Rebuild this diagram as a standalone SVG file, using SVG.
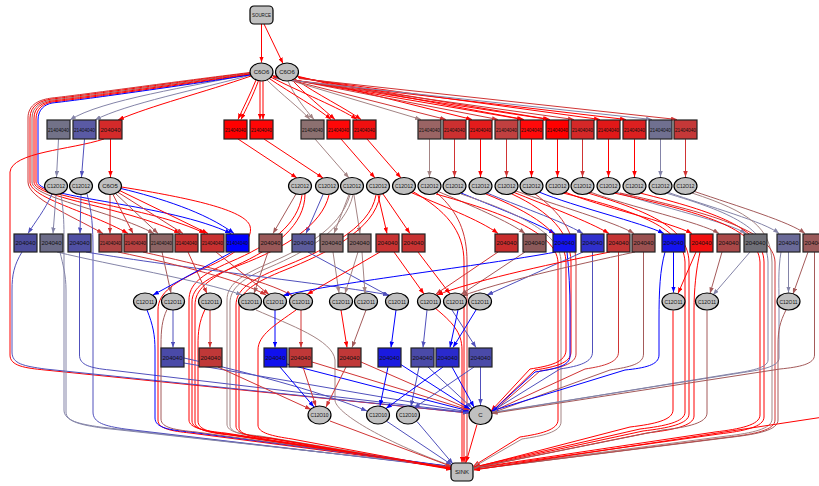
<svg xmlns="http://www.w3.org/2000/svg" width="819" height="486" viewBox="0 0 819 486">
<style>
.e path{fill:none;stroke-width:1}
.r{stroke:#ff0000;marker-end:url(#ar)}
.dr{stroke:#d03434;marker-end:url(#adr)}
.bn{stroke:#a45a5a;marker-end:url(#abn)}
.gb{stroke:#a48484;marker-end:url(#agb)}
.gy{stroke:#8484a8;marker-end:url(#agy)}
.bp{stroke:#5050bc;marker-end:url(#abp)}
.b{stroke:#0000ff;marker-end:url(#ab)}
.el{fill:#c0c0c0;stroke:#000;stroke-width:1.2}
.bx{stroke:#222;stroke-width:1.2}
.rd{fill:#c0c0c0;stroke:#000;stroke-width:1.2}
text{font-family:"Liberation Sans",Arial,sans-serif;font-size:6px;fill:#111;text-anchor:middle;dominant-baseline:central}
</style>
<defs>
<marker id="ar" viewBox="0 0 8 6" refX="8" refY="3" markerWidth="6" markerHeight="4.5" orient="auto"><path d="M0,0L8,3L0,6z" fill="#ff0000"/></marker>
<marker id="adr" viewBox="0 0 8 6" refX="8" refY="3" markerWidth="6" markerHeight="4.5" orient="auto"><path d="M0,0L8,3L0,6z" fill="#d03434"/></marker>
<marker id="abn" viewBox="0 0 8 6" refX="8" refY="3" markerWidth="6" markerHeight="4.5" orient="auto"><path d="M0,0L8,3L0,6z" fill="#a45a5a"/></marker>
<marker id="agb" viewBox="0 0 8 6" refX="8" refY="3" markerWidth="6" markerHeight="4.5" orient="auto"><path d="M0,0L8,3L0,6z" fill="#a48484"/></marker>
<marker id="agy" viewBox="0 0 8 6" refX="8" refY="3" markerWidth="6" markerHeight="4.5" orient="auto"><path d="M0,0L8,3L0,6z" fill="#8484a8"/></marker>
<marker id="abp" viewBox="0 0 8 6" refX="8" refY="3" markerWidth="6" markerHeight="4.5" orient="auto"><path d="M0,0L8,3L0,6z" fill="#5050bc"/></marker>
<marker id="ab" viewBox="0 0 8 6" refX="8" refY="3" markerWidth="6" markerHeight="4.5" orient="auto"><path d="M0,0L8,3L0,6z" fill="#0000ff"/></marker>
</defs>
<rect width="819" height="486" fill="#fff"/>
<g id="connectors" class="e">
<path class="r" d="M261.5,24 L261.5,62.5"/>
<path class="r" d="M264,24 L283,63.5"/>
<path class="r" d="M256,80 C250,95 243,108 238,119.5"/>
<path class="r" d="M258.5,80.5 C253,96 246,109 241,119.5"/>
<path class="r" d="M260,81 L260,119.5"/>
<path class="r" d="M263,81 L263,119.5"/>
<path class="gb" d="M266,79 C282,95 300,108 310,119.5"/>
<path class="gb" d="M288,81 C294,95 304,108 314,119.5"/>
<path class="r" d="M268.5,78 C292,94 318,108 331,119.5"/>
<path class="r" d="M292,80 C306,95 322,108 335,119.5"/>
<path class="r" d="M270.5,77 C300,92 340,108 357,119.5"/>
<path class="r" d="M295,79 C318,95 345,108 361,119.5"/>
<path class="r" d="M251,76 C205,92 150,106 118,120"/>
<path class="gy" d="M251,75 C200,89 125,104 95,120"/>
<path class="gy" d="M250,74 C195,86 100,100 70,120"/>
<path class="dr" d="M250,72.5 C180,81 80,95 52,98 C40,99.5 28,104 28,118 L28,182 C28,198 70,215 103,233.5"/>
<path class="r" d="M250,73 C180,82 80,96 52,99 C41,100.5 30,105 30,118 L30,182 C30,198 90,212 128,233.5"/>
<path class="bn" d="M250,73.5 C180,83 80,97 52,100 C42,101.5 32,106 32,118 L32,182 C32,198 110,210 154,233.5"/>
<path class="r" d="M250,74 C180,84 80,98 52,101 C43,102.5 34,107 34,118 L34,182 C34,198 130,208 180,233.5"/>
<path class="r" d="M250,74.5 C180,85 80,99 52,102 C44,103.5 36,108 36,119 L36,182 C36,198 150,206 205,233.5"/>
<path class="b" d="M250,75 C180,86 80,100 52,103 C45,104.5 38,109 38,120 L38,182 C38,198 170,204 231,233.5"/>
<path class="r" d="M104,139 C70,150 12,152 10,172 L10,355 C10,366 25,368 45,370 L469,413"/>
<path class="gy" d="M58.5,139 L56.5,177"/>
<path class="bp" d="M84.5,139 L81.5,177"/>
<path class="r" d="M110.5,139 L110.5,177"/>
<path class="r" d="M238,139 L297,178"/>
<path class="r" d="M264,139 L323,178"/>
<path class="gb" d="M315,139 L349,178"/>
<path class="r" d="M341,139 L375,178"/>
<path class="r" d="M367,139 L401,178"/>
<path class="gb" d="M272,75 L421,119.5"/>
<path class="dr" d="M272,75.5 L446,119.5"/>
<path class="r" d="M297,76 L472,119.5"/>
<path class="dr" d="M273,76 L498,119.5"/>
<path class="r" d="M273,76.5 L523,119.5"/>
<path class="r" d="M298,77 L524,119.5"/>
<path class="r" d="M273,77 L549,119.5"/>
<path class="r" d="M298,77.5 L550,119.5"/>
<path class="dr" d="M274,77.5 L574,119.5"/>
<path class="r" d="M299,78 L600,119.5"/>
<path class="r" d="M274,78 L626,119.5"/>
<path class="gy" d="M274,78.5 L652,119.5"/>
<path class="dr" d="M299,78.5 L677,119.5"/>
<path class="gb" d="M429.5,139 L429.5,177"/>
<path class="dr" d="M454.5,139 L454.5,177"/>
<path class="r" d="M480.5,139 L480.5,177"/>
<path class="dr" d="M506.5,139 L506.5,177"/>
<path class="r" d="M531.5,139 L531.5,177"/>
<path class="r" d="M557.5,139 L557.5,177"/>
<path class="dr" d="M582.5,139 L582.5,177"/>
<path class="r" d="M608.5,139 L608.5,177"/>
<path class="r" d="M634.5,139 L634.5,177"/>
<path class="gy" d="M660.5,139 L660.5,177"/>
<path class="dr" d="M685.5,139 L685.5,177"/>
<path class="bp" d="M52,194 C45,210 35,222 28,233.5"/>
<path class="gy" d="M56,195 L53,233.5"/>
<path class="gy" d="M61,194 C64,215 64,225 64,240 L64,410 C64,421 80,424 100,427 L451.5,467"/>
<path class="bp" d="M81,195 L80,233.5"/>
<path class="bp" d="M87,194 C92,212 93,228 93,250 L93,412 C93,423 105,426 125,429 L451.5,467.5"/>
<path class="dr" d="M110,195 L110,233.5"/>
<path class="dr" d="M113,194.5 L133,233.5"/>
<path class="bn" d="M115.5,193.5 L158,233.5"/>
<path class="dr" d="M117.5,192 L183,233.5"/>
<path class="r" d="M119.5,190.5 L208,233.5"/>
<path class="b" d="M121,188.5 C160,198 205,212 234,233.5"/>
<path class="r" d="M121.5,187 C190,198 245,210 250,226 C254,240 235,255 205,268 C175,282 158,292 158,310 L158,420 C158,429 172,431 190,433 L451.5,467"/>
<path class="bn" d="M296,194 L273,233.5"/>
<path class="bp" d="M323,194.5 L306,233.5"/>
<path class="gb" d="M349,194.5 L334,233.5"/>
<path class="gb" d="M354,195 L360,233.5"/>
<path class="r" d="M378,195 L387,233.5"/>
<path class="r" d="M383,194 L410,233.5"/>
<path class="r" d="M410,192 C440,205 480,220 498,233.5"/>
<path class="r" d="M302,195 C298,225 270,245 230,262 C200,275 189,285 189,300 L189,420 C189,428 205,431 225,433 L451.5,467.5"/>
<path class="r" d="M329,195 C322,225 285,248 240,265 C205,278 192,288 192,302 L192,421 C192,429 208,432 228,434 L451.5,468"/>
<path class="r" d="M305,194 C305,225 275,248 235,266 C207,280 195,290 195,305 L195,422 C195,430 210,433 230,435 L452,468.5"/>
<path class="gb" d="M350,195 C340,230 300,250 265,265 C240,276 227,285 227,300 L227,424 C227,432 240,434 260,436 L452,468"/>
<path class="gb" d="M353,195 C345,230 305,252 270,267 C243,278 230,288 230,303 L230,425 C230,433 243,435 263,437 L452,468.5"/>
<path class="r" d="M376,195 C370,230 320,252 280,268 C250,280 236,290 236,305 L236,426 C236,434 250,436 270,438 L452,469"/>
<path class="r" d="M380,195 C375,230 325,254 285,270 C255,282 239,292 239,307 L239,427 C239,435 253,437 273,439 L452,469.5"/>
<path class="bn" d="M437,191 C470,205 510,222 525,233.5"/>
<path class="b" d="M461,193 C490,205 530,220 555,233.5"/>
<path class="bp" d="M487,193 C515,205 560,220 583,233.5"/>
<path class="r" d="M513,192 C545,205 590,222 609,233.5"/>
<path class="bn" d="M516,191 C555,205 615,222 634,233.5"/>
<path class="b" d="M539,192 C575,207 640,222 664,233.5"/>
<path class="r" d="M565,192 C600,207 670,222 692,233.5"/>
<path class="bn" d="M590,192 C630,207 700,222 719,233.5"/>
<path class="gy" d="M616,192 C660,207 728,222 746,233.5"/>
<path class="gy" d="M667,192 C710,207 765,222 779,233.5"/>
<path class="bn" d="M693,191 C740,207 790,222 805,233.5"/>
<path class="r" d="M412,191 C445,210 464,230 464,262 L464,462.5"/>
<path class="dr" d="M437,193 C458,212 467,232 467,262 L467,455 C467,459 466,461 465.5,462.5"/>
<path class="r" d="M436,194 C500,212 556,232 558,262 L558,420 C558,430 540,434 520,437 L473.5,466"/>
<path class="gb" d="M461,194 C515,212 561,232 561,262 L561,422 C561,432 542,436 522,439 L473.5,467"/>
<path class="r" d="M486,194 C530,212 565,232 566,262 L566,350 C566,362 550,366 530,369 L491,411"/>
<path class="r" d="M512,194 C550,212 570,232 571,262 L571,352 C571,363 555,367 535,370 L491.5,412"/>
<path class="dr" d="M535,194 C560,212 575,232 576,262 L576,354 C576,364 560,368 540,371 L491.5,413"/>
<path class="r" d="M563,193 C640,212 683,228 685,262 L685,412 C685,422 665,426 640,429 L474,467"/>
<path class="r" d="M588,193 C650,212 688,228 689,262 L689,414 C689,424 668,428 643,431 L474,467.5"/>
<path class="r" d="M614,193 C700,212 758,228 760,262 L760,415 C760,425 740,429 715,432 L474,468"/>
<path class="r" d="M640,193 C715,212 763,228 764,262 L764,417 C764,427 744,431 719,434 L474,468.5"/>
<path class="gy" d="M666,193 C730,212 767,228 768,262 L768,360 C768,368 750,371 730,374 L491.5,413"/>
<path class="gb" d="M692,193 C750,212 771,228 772,262 L772,419 C772,429 752,433 727,436 L474,469"/>
<path class="dr" d="M620,193 C705,212 774,230 775,262 L775,420 C775,430 755,434 730,437 L474,469.5"/>
<path class="bp" d="M22,252 C14,265 12,275 12,290 L12,352 C12,364 24,366 45,369 L469,413"/>
<path class="gy" d="M57,252 C110,265 200,280 242,295"/>
<path class="gy" d="M60,252 C63,265 66,275 66,290 L66,412 C66,422 82,425 102,428 L451.5,466.5"/>
<path class="bp" d="M79.5,252 L79.5,355 C79.5,365 90,368 110,370 L469,412.5"/>
<path class="bp" d="M86,252 C180,268 330,284 389,295"/>
<path class="dr" d="M118,252 C180,265 240,280 266,295"/>
<path class="dr" d="M143,252 C200,265 265,280 292,295.5"/>
<path class="bn" d="M162,252 L171,293"/>
<path class="dr" d="M188,252 L207,293.5"/>
<path class="dr" d="M216,252 L269,294.5"/>
<path class="b" d="M232,252 L153,295"/>
<path class="bn" d="M268,252 L254,293.5"/>
<path class="bp" d="M308,252 L389,296"/>
<path class="gb" d="M333,252 L339,293"/>
<path class="gb" d="M358,252 L345,293.5"/>
<path class="gb" d="M362,252 L365,293"/>
<path class="r" d="M380,252 L307,294.5"/>
<path class="r" d="M394,252 L424,294"/>
<path class="r" d="M418,252 L450,294"/>
<path class="dr" d="M498,252 L436,294"/>
<path class="bn" d="M525,252 L461,294.5"/>
<path class="b" d="M556,252 C480,266 340,282 283,295.5"/>
<path class="b" d="M567,252 C569,270 570,290 570,310 L570,356 C570,366 555,369 535,372 L491.5,412"/>
<path class="bp" d="M583,252 L487,295"/>
<path class="bp" d="M592.5,252 L592.5,352 C592.5,362 580,366 560,369 L491.5,411.5"/>
<path class="r" d="M610,252 C540,266 470,282 437,295"/>
<path class="dr" d="M618.5,252 L618.5,352 C618.5,362 605,366 585,369 L491.5,412"/>
<path class="bn" d="M635,252 C570,266 500,282 462,296"/>
<path class="bn" d="M643.5,252 L643.5,354 C643.5,364 630,367 610,370 L491.5,413"/>
<path class="b" d="M673.5,252 L673.5,292.5"/>
<path class="b" d="M665,252 C660,270 659,290 659,320 L659,355 C659,365 645,368 625,370 L491.5,411"/>
<path class="r" d="M696,252 L678,293.5"/>
<path class="r" d="M700,252 C696,270 694,290 694,310 L694,416 C694,426 672,430 647,433 L474,468"/>
<path class="bn" d="M722,252 L710,293.5"/>
<path class="gy" d="M750,252 L713,295"/>
<path class="gy" d="M788.5,252 L788.5,292.5"/>
<path class="gy" d="M781,252 C778,270 779,285 779,300 L779,358 C779,367 760,370 740,373 L491.5,412.5"/>
<path class="bn" d="M808,252 L793,294"/>
<path class="bn" d="M814.5,252 L814.5,355 C814.5,364 800,367 780,369 L491.5,413.5"/>
<path class="b" d="M147,310 C153,325 155,335 155,350 L155,418 C155,428 170,430 190,432 L451.5,466.5"/>
<path class="bp" d="M173,310 L173,347.5"/>
<path class="bn" d="M167,309.5 C162,320 161,330 161,345 L161,419 C161,428 176,430 196,432 L451.5,467"/>
<path class="dr" d="M210,310 L210,347.5"/>
<path class="r" d="M205,309.5 C199,322 198,332 198,345 L198,421 C198,430 212,433 232,435 L452,468"/>
<path class="gb" d="M256,310 C290,325 333,340 335,360 L335,400 C335,412 380,440 451.5,466"/>
<path class="b" d="M275,310 L275,347.5"/>
<path class="dr" d="M301,310 L301,347.5"/>
<path class="r" d="M296,310 C275,325 258,335 258,350 L258,425 C258,433 272,436 292,439 L452,469"/>
<path class="r" d="M341,310 L347,347.5"/>
<path class="bn" d="M366,310 L352,347.5"/>
<path class="b" d="M396,310 L391,347.5"/>
<path class="bp" d="M427,310 L423,347.5"/>
<path class="r" d="M435,308 C452,322 462,332 462,350 L462,462.5"/>
<path class="bp" d="M452,310 L476,347.5"/>
<path class="b" d="M458,310 L450,347.5"/>
<path class="b" d="M476,310 L453,347.5"/>
<path class="r" d="M673,310.5 L673,410 C673,420 655,424 630,427 L474,467.5"/>
<path class="bn" d="M707,310.5 L707,413 C707,423 688,427 663,430 L474,468"/>
<path class="bn" d="M786,310 C780,322 778,330 778,345 L778,420 C778,430 758,434 733,437 L474,469.5"/>
<path class="r" d="M830,416 L474,470"/>
<path class="bp" d="M184,363 L469,412"/>
<path class="bp" d="M184,358 C260,375 330,395 367,411"/>
<path class="dr" d="M218,367 L311,409.5"/>
<path class="b" d="M280,367 L314,407"/>
<path class="b" d="M287,364 L469,411"/>
<path class="dr" d="M303,367 L316,406.5"/>
<path class="dr" d="M312,362 L469,410"/>
<path class="dr" d="M346,367 L326,407"/>
<path class="dr" d="M361,362 L470,409.5"/>
<path class="b" d="M388,367 L380,406"/>
<path class="b" d="M400,364 L470,409"/>
<path class="bp" d="M419,367 L411,406.5"/>
<path class="bp" d="M428,367 L472,408"/>
<path class="b" d="M443,367 L386,408.5"/>
<path class="b" d="M452,367 L474,407"/>
<path class="bp" d="M480.5,367 L480.5,405"/>
<path class="bp" d="M474,367 L414,408"/>
<path class="dr" d="M330,421 L451.5,466.5"/>
<path class="bp" d="M387,421.5 L452,465"/>
<path class="bp" d="M417,421.5 L453,464"/>
<path class="r" d="M477,424.5 L466,462.5"/>
</g>
<g id="n_source"><rect class="rd" x="250" y="6" width="23" height="18" rx="4"/><text x="261.5" y="15" font-size="5.5" textLength="19" lengthAdjust="spacingAndGlyphs">SOURCE</text></g>
<g id="n_c6o6_a"><ellipse class="el" cx="261.5" cy="72" rx="11.5" ry="9"/><text x="261.5" y="72">C6O6</text></g>
<g id="n_c6o6_b"><ellipse class="el" cx="287" cy="72" rx="11.5" ry="9"/><text x="287" y="72">C6O6</text></g>
<g id="b2_1"><rect class="bx" x="47" y="120" width="23" height="19" fill="#727288"/><text x="58.5" y="129.5" textLength="21" lengthAdjust="spacingAndGlyphs">21404040</text></g>
<g id="b2_2"><rect class="bx" x="73" y="120" width="23" height="19" fill="#5a5aa4"/><text x="84.5" y="129.5" textLength="21" lengthAdjust="spacingAndGlyphs">21404040</text></g>
<g id="b2_3"><rect class="bx" x="99" y="120" width="23" height="19" fill="#d42a2a"/><text x="110.5" y="129.5">204040</text></g>
<g id="b2_4"><rect class="bx" x="224" y="120" width="23" height="19" fill="#ff0000"/><text x="235.5" y="129.5" textLength="21" lengthAdjust="spacingAndGlyphs">21404040</text></g>
<g id="b2_5"><rect class="bx" x="250" y="120" width="23" height="19" fill="#ff0606"/><text x="261.5" y="129.5" textLength="21" lengthAdjust="spacingAndGlyphs">21404040</text></g>
<g id="b2_6"><rect class="bx" x="301" y="120" width="23" height="19" fill="#8c7070"/><text x="312.5" y="129.5" textLength="21" lengthAdjust="spacingAndGlyphs">21404040</text></g>
<g id="b2_7"><rect class="bx" x="327" y="120" width="23" height="19" fill="#ff0808"/><text x="338.5" y="129.5" textLength="21" lengthAdjust="spacingAndGlyphs">21404040</text></g>
<g id="b2_8"><rect class="bx" x="353" y="120" width="23" height="19" fill="#f01010"/><text x="364.5" y="129.5" textLength="21" lengthAdjust="spacingAndGlyphs">21404040</text></g>
<g id="b2_9"><rect class="bx" x="418" y="120" width="23" height="19" fill="#9a6464"/><text x="429.5" y="129.5" textLength="21" lengthAdjust="spacingAndGlyphs">21404040</text></g>
<g id="b2_10"><rect class="bx" x="443" y="120" width="23" height="19" fill="#cc3030"/><text x="454.5" y="129.5" textLength="21" lengthAdjust="spacingAndGlyphs">21404040</text></g>
<g id="b2_11"><rect class="bx" x="469" y="120" width="23" height="19" fill="#e41c1c"/><text x="480.5" y="129.5" textLength="21" lengthAdjust="spacingAndGlyphs">21404040</text></g>
<g id="b2_12"><rect class="bx" x="495" y="120" width="23" height="19" fill="#c04040"/><text x="506.5" y="129.5" textLength="21" lengthAdjust="spacingAndGlyphs">21404040</text></g>
<g id="b2_13"><rect class="bx" x="520" y="120" width="23" height="19" fill="#ff0a0a"/><text x="531.5" y="129.5" textLength="21" lengthAdjust="spacingAndGlyphs">21404040</text></g>
<g id="b2_14"><rect class="bx" x="546" y="120" width="23" height="19" fill="#ff0000"/><text x="557.5" y="129.5" textLength="21" lengthAdjust="spacingAndGlyphs">21404040</text></g>
<g id="b2_15"><rect class="bx" x="571" y="120" width="23" height="19" fill="#d42828"/><text x="582.5" y="129.5" textLength="21" lengthAdjust="spacingAndGlyphs">21404040</text></g>
<g id="b2_16"><rect class="bx" x="597" y="120" width="23" height="19" fill="#e01818"/><text x="608.5" y="129.5" textLength="21" lengthAdjust="spacingAndGlyphs">21404040</text></g>
<g id="b2_17"><rect class="bx" x="623" y="120" width="23" height="19" fill="#dc2020"/><text x="634.5" y="129.5" textLength="21" lengthAdjust="spacingAndGlyphs">21404040</text></g>
<g id="b2_18"><rect class="bx" x="649" y="120" width="23" height="19" fill="#707090"/><text x="660.5" y="129.5" textLength="21" lengthAdjust="spacingAndGlyphs">21404040</text></g>
<g id="b2_19"><rect class="bx" x="674" y="120" width="23" height="19" fill="#c43838"/><text x="685.5" y="129.5" textLength="21" lengthAdjust="spacingAndGlyphs">21404040</text></g>
<g id="e3_1"><ellipse class="el" cx="56" cy="186" rx="11.5" ry="8.5"/><text x="56" y="186" textLength="18" lengthAdjust="spacingAndGlyphs">C12O12</text></g>
<g id="e3_2"><ellipse class="el" cx="81" cy="186" rx="11.5" ry="8.5"/><text x="81" y="186" textLength="18" lengthAdjust="spacingAndGlyphs">C12O12</text></g>
<g id="e3_c6o5"><ellipse class="el" cx="110" cy="186" rx="11.5" ry="8.5"/><text x="110" y="186">C6O5</text></g>
<g id="e3_3"><ellipse class="el" cx="300" cy="186" rx="11.5" ry="8.5"/><text x="300" y="186" textLength="18" lengthAdjust="spacingAndGlyphs">C12O12</text></g>
<g id="e3_4"><ellipse class="el" cx="327" cy="186" rx="11.5" ry="8.5"/><text x="327" y="186" textLength="18" lengthAdjust="spacingAndGlyphs">C12O12</text></g>
<g id="e3_5"><ellipse class="el" cx="352" cy="186" rx="11.5" ry="8.5"/><text x="352" y="186" textLength="18" lengthAdjust="spacingAndGlyphs">C12O12</text></g>
<g id="e3_6"><ellipse class="el" cx="378" cy="186" rx="11.5" ry="8.5"/><text x="378" y="186" textLength="18" lengthAdjust="spacingAndGlyphs">C12O12</text></g>
<g id="e3_7"><ellipse class="el" cx="404" cy="186" rx="11.5" ry="8.5"/><text x="404" y="186" textLength="18" lengthAdjust="spacingAndGlyphs">C12O12</text></g>
<g id="e3_8"><ellipse class="el" cx="429.5" cy="186" rx="11.5" ry="8.5"/><text x="429.5" y="186" textLength="18" lengthAdjust="spacingAndGlyphs">C12O12</text></g>
<g id="e3_9"><ellipse class="el" cx="454.5" cy="186" rx="11.5" ry="8.5"/><text x="454.5" y="186" textLength="18" lengthAdjust="spacingAndGlyphs">C12O12</text></g>
<g id="e3_10"><ellipse class="el" cx="480.5" cy="186" rx="11.5" ry="8.5"/><text x="480.5" y="186" textLength="18" lengthAdjust="spacingAndGlyphs">C12O12</text></g>
<g id="e3_11"><ellipse class="el" cx="506.5" cy="186" rx="11.5" ry="8.5"/><text x="506.5" y="186" textLength="18" lengthAdjust="spacingAndGlyphs">C12O12</text></g>
<g id="e3_12"><ellipse class="el" cx="531.5" cy="186" rx="11.5" ry="8.5"/><text x="531.5" y="186" textLength="18" lengthAdjust="spacingAndGlyphs">C12O12</text></g>
<g id="e3_13"><ellipse class="el" cx="557.5" cy="186" rx="11.5" ry="8.5"/><text x="557.5" y="186" textLength="18" lengthAdjust="spacingAndGlyphs">C12O12</text></g>
<g id="e3_14"><ellipse class="el" cx="582.5" cy="186" rx="11.5" ry="8.5"/><text x="582.5" y="186" textLength="18" lengthAdjust="spacingAndGlyphs">C12O12</text></g>
<g id="e3_15"><ellipse class="el" cx="608.5" cy="186" rx="11.5" ry="8.5"/><text x="608.5" y="186" textLength="18" lengthAdjust="spacingAndGlyphs">C12O12</text></g>
<g id="e3_16"><ellipse class="el" cx="634.5" cy="186" rx="11.5" ry="8.5"/><text x="634.5" y="186" textLength="18" lengthAdjust="spacingAndGlyphs">C12O12</text></g>
<g id="e3_17"><ellipse class="el" cx="660.5" cy="186" rx="11.5" ry="8.5"/><text x="660.5" y="186" textLength="18" lengthAdjust="spacingAndGlyphs">C12O12</text></g>
<g id="e3_18"><ellipse class="el" cx="685.5" cy="186" rx="11.5" ry="8.5"/><text x="685.5" y="186" textLength="18" lengthAdjust="spacingAndGlyphs">C12O12</text></g>
<g id="b4_1"><rect class="bx" x="14" y="234" width="23" height="18" fill="#4c4c9c"/><text x="25.5" y="243">204040</text></g>
<g id="b4_2"><rect class="bx" x="40" y="234" width="23" height="18" fill="#6c6c88"/><text x="51.5" y="243">204040</text></g>
<g id="b4_3"><rect class="bx" x="68" y="234" width="23" height="18" fill="#5050a4"/><text x="79.5" y="243">204040</text></g>
<g id="b4_4"><rect class="bx" x="99" y="234" width="23" height="18" fill="#b04444"/><text x="110.5" y="243" textLength="21" lengthAdjust="spacingAndGlyphs">21404040</text></g>
<g id="b4_5"><rect class="bx" x="124" y="234" width="23" height="18" fill="#b84040"/><text x="135.5" y="243" textLength="21" lengthAdjust="spacingAndGlyphs">21404040</text></g>
<g id="b4_6"><rect class="bx" x="150" y="234" width="23" height="18" fill="#8c6464"/><text x="161.5" y="243" textLength="21" lengthAdjust="spacingAndGlyphs">21404040</text></g>
<g id="b4_7"><rect class="bx" x="175" y="234" width="23" height="18" fill="#c83030"/><text x="186.5" y="243" textLength="21" lengthAdjust="spacingAndGlyphs">21404040</text></g>
<g id="b4_8"><rect class="bx" x="201" y="234" width="23" height="18" fill="#c83030"/><text x="212.5" y="243" textLength="21" lengthAdjust="spacingAndGlyphs">21404040</text></g>
<g id="b4_9"><rect class="bx" x="226" y="234" width="23" height="18" fill="#0000ff"/><text x="237.5" y="243" textLength="21" lengthAdjust="spacingAndGlyphs">21404040</text></g>
<g id="b4_10"><rect class="bx" x="259" y="234" width="23" height="18" fill="#9a5858"/><text x="270.5" y="243">204040</text></g>
<g id="b4_11"><rect class="bx" x="292" y="234" width="23" height="18" fill="#5c5c9c"/><text x="303.5" y="243">204040</text></g>
<g id="b4_12"><rect class="bx" x="320" y="234" width="23" height="18" fill="#8c6c6c"/><text x="331.5" y="243">204040</text></g>
<g id="b4_13"><rect class="bx" x="348" y="234" width="23" height="18" fill="#8c6c6c"/><text x="359.5" y="243">204040</text></g>
<g id="b4_14"><rect class="bx" x="376" y="234" width="23" height="18" fill="#c83232"/><text x="387.5" y="243">204040</text></g>
<g id="b4_15"><rect class="bx" x="402" y="234" width="23" height="18" fill="#c83232"/><text x="413.5" y="243">204040</text></g>
<g id="b4_16"><rect class="bx" x="495" y="234" width="23" height="18" fill="#c82c2c"/><text x="506.5" y="243">204040</text></g>
<g id="b4_17"><rect class="bx" x="523" y="234" width="23" height="18" fill="#8c5a5a"/><text x="534.5" y="243">204040</text></g>
<g id="b4_18"><rect class="bx" x="553" y="234" width="23" height="18" fill="#1414f0"/><text x="564.5" y="243">204040</text></g>
<g id="b4_19"><rect class="bx" x="581" y="234" width="23" height="18" fill="#3030cc"/><text x="592.5" y="243">204040</text></g>
<g id="b4_20"><rect class="bx" x="607" y="234" width="23" height="18" fill="#c43434"/><text x="618.5" y="243">204040</text></g>
<g id="b4_21"><rect class="bx" x="632" y="234" width="23" height="18" fill="#9a5050"/><text x="643.5" y="243">204040</text></g>
<g id="b4_22"><rect class="bx" x="662" y="234" width="23" height="18" fill="#1414f0"/><text x="673.5" y="243">204040</text></g>
<g id="b4_23"><rect class="bx" x="690" y="234" width="23" height="18" fill="#f01010"/><text x="701.5" y="243">204040</text></g>
<g id="b4_24"><rect class="bx" x="717" y="234" width="23" height="18" fill="#aa4848"/><text x="728.5" y="243">204040</text></g>
<g id="b4_25"><rect class="bx" x="744" y="234" width="23" height="18" fill="#707078"/><text x="755.5" y="243">204040</text></g>
<g id="b4_26"><rect class="bx" x="777" y="234" width="23" height="18" fill="#6a6a98"/><text x="788.5" y="243">204040</text></g>
<g id="b4_27"><rect class="bx" x="803" y="234" width="23" height="18" fill="#9a5a5a"/><text x="814.5" y="243">204040</text></g>
<g id="e5_1"><ellipse class="el" cx="145" cy="301.5" rx="11.5" ry="8.5"/><text x="145" y="301.5" textLength="18" lengthAdjust="spacingAndGlyphs">C12O11</text></g>
<g id="e5_2"><ellipse class="el" cx="173" cy="301.5" rx="11.5" ry="8.5"/><text x="173" y="301.5" textLength="18" lengthAdjust="spacingAndGlyphs">C12O11</text></g>
<g id="e5_3"><ellipse class="el" cx="210" cy="301.5" rx="11.5" ry="8.5"/><text x="210" y="301.5" textLength="18" lengthAdjust="spacingAndGlyphs">C12O11</text></g>
<g id="e5_4"><ellipse class="el" cx="250" cy="301.5" rx="11.5" ry="8.5"/><text x="250" y="301.5" textLength="18" lengthAdjust="spacingAndGlyphs">C12O11</text></g>
<g id="e5_5"><ellipse class="el" cx="275" cy="301.5" rx="11.5" ry="8.5"/><text x="275" y="301.5" textLength="18" lengthAdjust="spacingAndGlyphs">C12O11</text></g>
<g id="e5_6"><ellipse class="el" cx="301" cy="301.5" rx="11.5" ry="8.5"/><text x="301" y="301.5" textLength="18" lengthAdjust="spacingAndGlyphs">C12O11</text></g>
<g id="e5_7"><ellipse class="el" cx="341" cy="301.5" rx="11.5" ry="8.5"/><text x="341" y="301.5" textLength="18" lengthAdjust="spacingAndGlyphs">C12O11</text></g>
<g id="e5_8"><ellipse class="el" cx="366" cy="301.5" rx="11.5" ry="8.5"/><text x="366" y="301.5" textLength="18" lengthAdjust="spacingAndGlyphs">C12O11</text></g>
<g id="e5_9"><ellipse class="el" cx="397" cy="301.5" rx="11.5" ry="8.5"/><text x="397" y="301.5" textLength="18" lengthAdjust="spacingAndGlyphs">C12O11</text></g>
<g id="e5_10"><ellipse class="el" cx="429" cy="301.5" rx="11.5" ry="8.5"/><text x="429" y="301.5" textLength="18" lengthAdjust="spacingAndGlyphs">C12O11</text></g>
<g id="e5_11"><ellipse class="el" cx="455" cy="301.5" rx="11.5" ry="8.5"/><text x="455" y="301.5" textLength="18" lengthAdjust="spacingAndGlyphs">C12O11</text></g>
<g id="e5_12"><ellipse class="el" cx="480" cy="301.5" rx="11.5" ry="8.5"/><text x="480" y="301.5" textLength="18" lengthAdjust="spacingAndGlyphs">C12O11</text></g>
<g id="e5_13"><ellipse class="el" cx="673.5" cy="301.5" rx="11.5" ry="8.5"/><text x="673.5" y="301.5" textLength="18" lengthAdjust="spacingAndGlyphs">C12O11</text></g>
<g id="e5_14"><ellipse class="el" cx="707" cy="301.5" rx="11.5" ry="8.5"/><text x="707" y="301.5" textLength="18" lengthAdjust="spacingAndGlyphs">C12O11</text></g>
<g id="e5_15"><ellipse class="el" cx="788.5" cy="301.5" rx="11.5" ry="8.5"/><text x="788.5" y="301.5" textLength="18" lengthAdjust="spacingAndGlyphs">C12O11</text></g>
<g id="b6_1"><rect class="bx" x="161" y="348" width="23" height="19" fill="#4a4aa8"/><text x="172.5" y="357.5">204040</text></g>
<g id="b6_2"><rect class="bx" x="199" y="348" width="23" height="19" fill="#c03838"/><text x="210.5" y="357.5">204040</text></g>
<g id="b6_3"><rect class="bx" x="264" y="348" width="23" height="19" fill="#1010ee"/><text x="275.5" y="357.5">204040</text></g>
<g id="b6_4"><rect class="bx" x="289" y="348" width="23" height="19" fill="#c03838"/><text x="300.5" y="357.5">204040</text></g>
<g id="b6_5"><rect class="bx" x="338" y="348" width="23" height="19" fill="#c03838"/><text x="349.5" y="357.5">204040</text></g>
<g id="b6_6"><rect class="bx" x="378" y="348" width="23" height="19" fill="#1a1ae0"/><text x="389.5" y="357.5">204040</text></g>
<g id="b6_7"><rect class="bx" x="411" y="348" width="23" height="19" fill="#4a4aa8"/><text x="422.5" y="357.5">204040</text></g>
<g id="b6_8"><rect class="bx" x="436" y="348" width="23" height="19" fill="#2a2acc"/><text x="447.5" y="357.5">204040</text></g>
<g id="b6_9"><rect class="bx" x="469" y="348" width="23" height="19" fill="#4a4aa8"/><text x="480.5" y="357.5">204040</text></g>
<g id="e7_1"><ellipse class="el" cx="319.5" cy="415" rx="11.5" ry="9"/><text x="319.5" y="415" textLength="18" lengthAdjust="spacingAndGlyphs">C12O10</text></g>
<g id="e7_2"><ellipse class="el" cx="378" cy="415" rx="11.5" ry="9"/><text x="378" y="415" textLength="18" lengthAdjust="spacingAndGlyphs">C12O10</text></g>
<g id="e7_3"><ellipse class="el" cx="408" cy="415" rx="11.5" ry="9"/><text x="408" y="415" textLength="18" lengthAdjust="spacingAndGlyphs">C12O10</text></g>
<g id="n_c"><ellipse class="el" cx="480.5" cy="415" rx="11.5" ry="9.5"/><text x="480.5" y="415">C</text></g>
<g id="n_sink"><rect class="rd" x="451" y="463" width="22" height="18" rx="4"/><text x="462" y="472" font-size="5.5">SINK</text></g>
</svg>
